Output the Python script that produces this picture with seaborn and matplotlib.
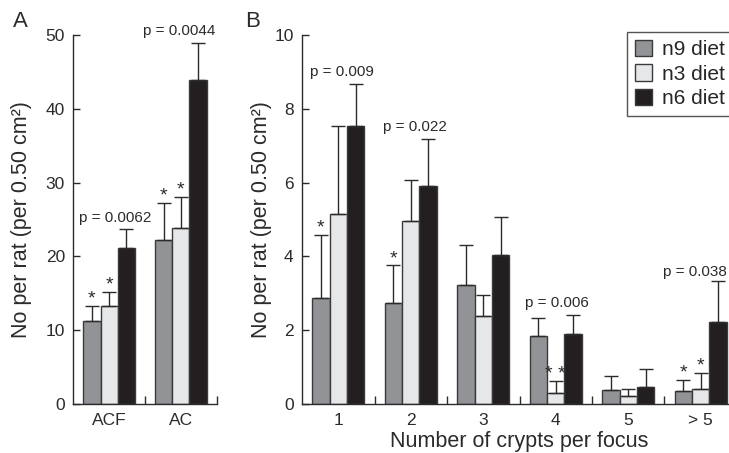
import numpy as np
import pandas as pd
import matplotlib
matplotlib.use("Agg")
import matplotlib.pyplot as plt
from matplotlib.container import BarContainer
import seaborn as sns

# ---------------- data ----------------
diets = ["n9 diet", "n3 diet", "n6 diet"]
colors = ["#929397", "#e6e7e9", "#231f20"]

cats_A = ["ACF", "AC"]
A_n9 = [11.3, 22.2]
A_n3 = [13.3, 23.8]
A_n6 = [21.1, 43.9]
A_n9_top = [13.3, 27.3]
A_n3_top = [15.2, 28.1]
A_n6_top = [23.7, 48.9]
A_n9_sig = ["*", "*"]
A_n3_sig = ["*", "*"]
A_n6_sig = ["", ""]
A_p_labels = ["p = 0.0062", "p = 0.0044"]

cats_B = ["1", "2", "3", "4", "5", "> 5"]
B_n9 = [2.86, 2.75, 3.23, 1.83, 0.38, 0.34]
B_n3 = [5.16, 4.95, 2.38, 0.31, 0.22, 0.41]
B_n6 = [7.54, 5.91, 4.03, 1.91, 0.45, 2.22]
B_n9_top = [4.59, 3.76, 4.30, 2.33, 0.76, 0.65]
B_n3_top = [7.54, 6.07, 2.96, 0.63, 0.40, 0.84]
B_n6_top = [8.67, 7.18, 5.08, 2.42, 0.94, 3.32]
B_n9_sig = ["*", "*", "", "", "", "*"]
B_n3_sig = ["", "", "", "* *", "", "*"]
B_n6_sig = ["", "", "", "", "", ""]
B_p_labels = ["p = 0.009", "p = 0.022", "p = 0.006", "p = 0.038"]

# annotation placement (data coords)
A_p_pos = [(0.08, 24.6), (0.98, 50.0)]
B_p_pos = [(0.05, 8.9), (1.06, 7.39), (3.02, 2.62), (4.92, 3.48)]

ylabel = "No per rat (per 0.50 cm²)"
xlabel_B = "Number of crypts per focus"

# ---------------- style ----------------
sns.set_style("ticks")
plt.rcParams["font.family"] = ["Liberation Sans", "DejaVu Sans"]
INK = "#2b2b2b"
EDGE = "#3a3a3a"

W, H = 729, 453
fig = plt.figure(figsize=(W / 100, H / 100), dpi=100)
axA = fig.add_axes([73.3 / W, (H - 404) / H, (216.7 - 73.3) / W, (404 - 35) / H])
axB = fig.add_axes([302 / W, (H - 404) / H, 435 / W, (404 - 35) / H])


def long_df(cats, series):
    rows = []
    for d, vals in zip(diets, series):
        for c, v in zip(cats, vals):
            rows.append({"cat": c, "value": v, "diet": d})
    return pd.DataFrame(rows)


def draw(ax, cats, means, tops, sigs, ylim, yticks, plabels, ppos, legend):
    df = long_df(cats, means)
    sns.barplot(data=df, x="cat", y="value", hue="diet", order=cats,
                hue_order=diets, palette=colors, saturation=1, width=0.72,
                edgecolor=EDGE, linewidth=1.0, errorbar=None, ax=ax,
                legend=legend)
    bar_conts = [c for c in ax.containers if isinstance(c, BarContainer)]
    for j, cont in enumerate(bar_conts):
        for i, bar in enumerate(cont.patches):
            x = bar.get_x() + bar.get_width() / 2
            h = bar.get_height()
            top = tops[j][i]
            ax.errorbar(x, h, yerr=[[0], [top - h]], fmt="none", ecolor=INK,
                        elinewidth=1.0, capsize=4.7, capthick=1.0, zorder=3)
            if sigs[j][i]:
                ax.annotate(sigs[j][i], (x, top), xytext=(0, 1.5),
                            textcoords="offset points", ha="center",
                            va="baseline", fontsize=14, color=INK)
    for lab, (px, py) in zip(plabels, ppos):
        ax.text(px, py, lab, ha="center", va="baseline", fontsize=11,
                color=INK, clip_on=False)
    ax.set_xlim(-0.5, len(cats) - 0.5)
    ax.set_ylim(*ylim)
    ax.set_yticks(yticks)
    ax.set_xticks(range(len(cats)))
    ax.set_xticklabels(cats)
    ax.set_xticks(np.arange(0.5, len(cats), 1.0), minor=True)
    ax.tick_params(axis="x", which="major", length=0, pad=6.5,
                   labelsize=12.5, labelcolor=INK)
    ax.tick_params(axis="x", which="minor", direction="in", length=6,
                   width=1, color=INK)
    ax.tick_params(axis="y", direction="in", length=5, width=1, pad=6,
                   labelsize=12.5, color=INK, labelcolor=INK)
    sns.despine(ax=ax)
    for s in ("left", "bottom"):
        ax.spines[s].set_color(INK)
        ax.spines[s].set_linewidth(1.0)
    ax.set_xlabel("")


draw(axA, cats_A, [A_n9, A_n3, A_n6], [A_n9_top, A_n3_top, A_n6_top],
     [A_n9_sig, A_n3_sig, A_n6_sig], (0, 50), [0, 10, 20, 30, 40, 50],
     A_p_labels, A_p_pos, False)
draw(axB, cats_B, [B_n9, B_n3, B_n6], [B_n9_top, B_n3_top, B_n6_top],
     [B_n9_sig, B_n3_sig, B_n6_sig], (0, 10), [0, 2, 4, 6, 8, 10],
     B_p_labels, B_p_pos, True)

axA.set_ylabel(ylabel, fontsize=15.5, color=INK, labelpad=9.5)
axB.set_ylabel(ylabel, fontsize=15.5, color=INK, labelpad=2)
axB.set_xlabel(xlabel_B, fontsize=15.5, color=INK, labelpad=2)

handles, labels = axB.get_legend_handles_labels()
leg = axB.legend(handles, labels, loc="upper left",
                 bbox_to_anchor=(627.3 / W, 1 - 32.3 / H),
                 bbox_transform=fig.transFigure, borderaxespad=0,
                 fontsize=15, handlelength=0.84, handleheight=0.84,
                 handletextpad=0.48, labelspacing=0.25, borderpad=0.35,
                 fancybox=False, framealpha=1, edgecolor="#555555",
                 title=None)
leg.get_frame().set_linewidth(1.0)

fig.text(13 / W, 1 - 26.7 / H, "A", fontsize=16, color=INK, va="baseline")
fig.text(245 / W, 1 - 26.7 / H, "B", fontsize=16, color=INK, va="baseline")

fig.savefig("out.png", dpi=100)
